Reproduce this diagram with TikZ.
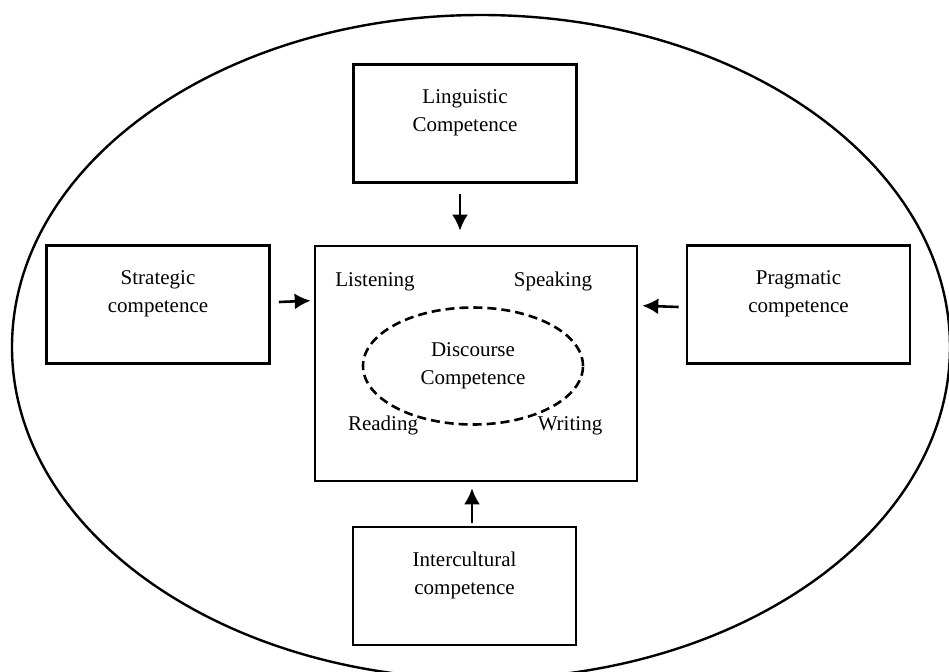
\documentclass[tikz,border=0pt]{standalone}
\usepackage{fontspec}
\setmainfont{Liberation Serif}
\usetikzlibrary{arrows.meta,positioning,shapes.geometric,calc}

\begin{document}
\begin{tikzpicture}[
    x=0.5pt, y=-0.5pt,
    font=\fontsize{10.5}{14}\selectfont,
    box/.style={draw, line width=1.3pt, minimum width=111.5pt, minimum height=59pt, inner sep=0pt},
    boxtext/.style={align=center, yshift=5.5pt},
    skill/.style={anchor=base, inner sep=0pt},
    arrow/.style={-{Latex[length=8pt, width=8pt]}, line width=1.3pt}
]
\useasboundingbox (0,0) rectangle (949,671);
\node[draw, ellipse, line width=1.2pt, minimum width=469pt, minimum height=332pt, inner sep=0pt] (outer) at (481,347) {};

\node[draw, line width=1.3pt, minimum width=161pt, minimum height=117.5pt, inner sep=0pt] (disc) at (476,363.5) {};
\node[draw, dash pattern=on 4.5pt off 2.5pt, line width=1.3pt, ellipse, minimum width=110pt, minimum height=58.5pt, inner sep=0pt, align=center] (core) at (473,366) {Discourse\\Competence};
\node[skill] (listen) at (375,286) {Listening};
\node[skill] (speak) at (553,286) {Speaking};
\node[skill] (read) at (383,430) {Reading};
\node[skill] (write) at (570,430) {Writing};

\node[box, label={[boxtext]center:Linguistic\\Competence}] (ling) at (465,123.5) {};
\node[box, label={[boxtext]center:Strategic\\competence}] (strat) at (158,304.5) {};
\node[box, label={[boxtext]center:Pragmatic\\competence}] (prag) at (798.5,304.5) {};
\node[box, label={[boxtext]center:Intercultural\\competence}] (inter) at (464.5,586) {};

\draw[arrow] ($(ling.south)+(-5,10)$) -- ($(disc.north)+(-16,-14)$);
\draw[arrow] ($(strat.east)+(8,-2.5)$) -- ($(disc.north west)+(-3,56)$);
\draw[arrow] ($(prag.west)+(-7,2.5)$) -- ($(disc.north east)+(4,61)$);
\draw[arrow] ($(inter.north)+(7.5,-3)$) -- ($(disc.south)+(-4,6)$);
\end{tikzpicture}
\end{document}
